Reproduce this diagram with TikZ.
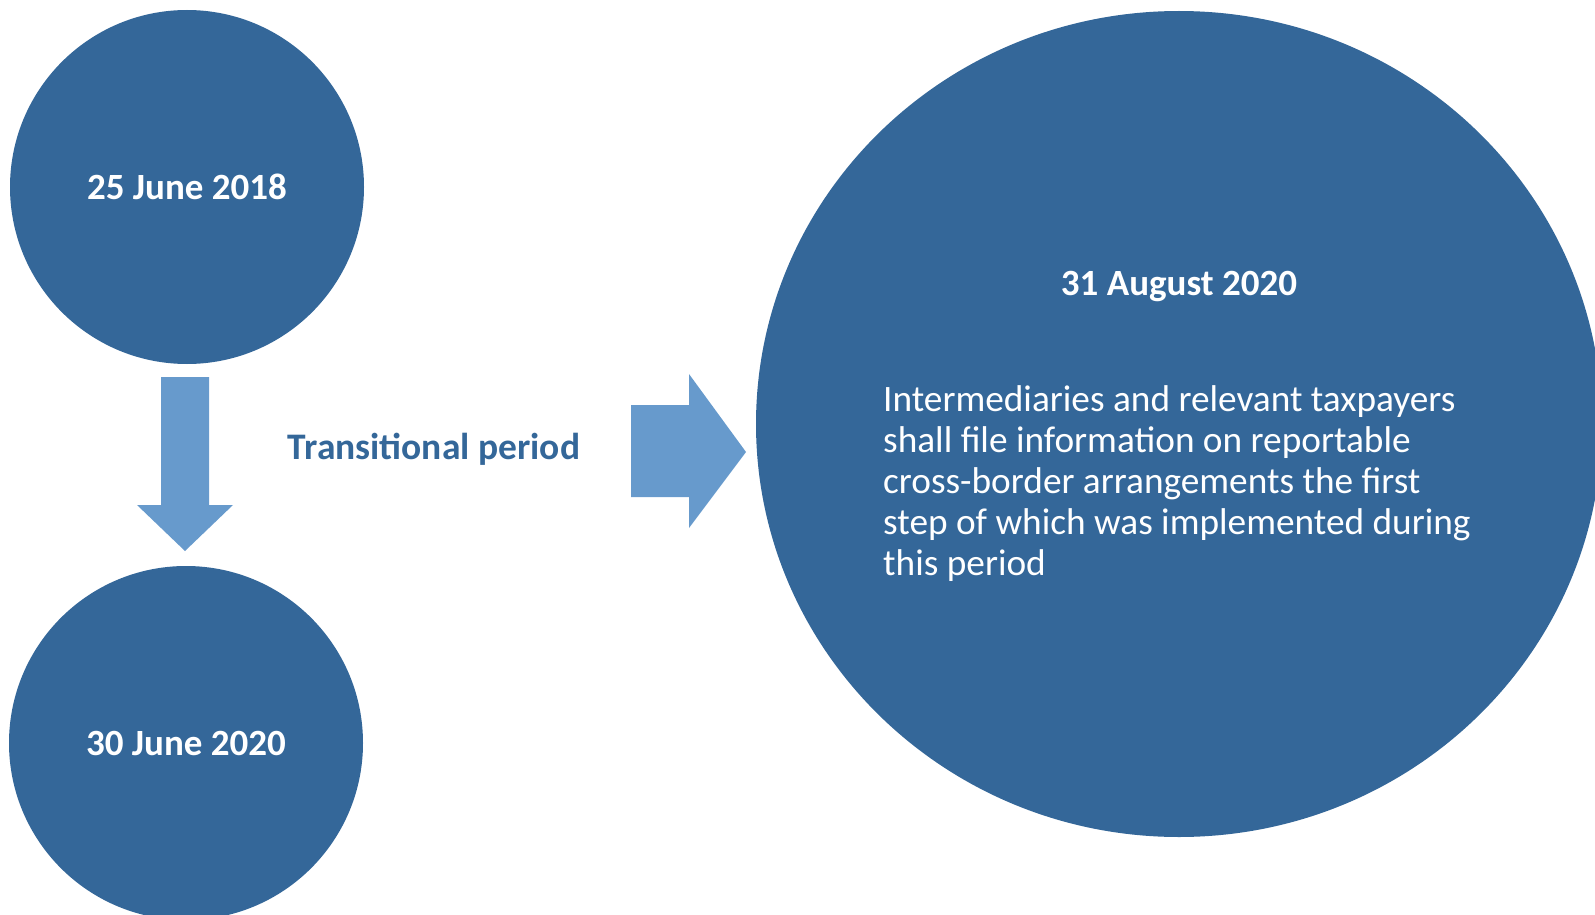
\documentclass[tikz,border=0pt]{standalone}
\usepackage{fontspec}
\setmainfont{Carlito}
\usetikzlibrary{shapes.geometric}
\usetikzlibrary{positioning}

\definecolor{datedark}{RGB}{52,103,153}
\definecolor{arrowlight}{RGB}{103,154,204}

\tikzset{
  datecircle/.style={circle, fill=datedark, text=white, inner sep=0pt,
    minimum size=354pt, font=\fontsize{37}{44}\selectfont\bfseries},
  blockarrow/.style={fill=arrowlight, draw=none},
}

\begin{document}
\begin{tikzpicture}[x=1pt,y=-1pt]
  \useasboundingbox (0,0) rectangle (1595,915);

  \node [datecircle] (d2018) at (187,187) {25 June 2018};
  \node [datecircle] (d2020) at (186,743) {30 June 2020};

  % block arrow down between the two dates
  \fill [blockarrow] (161,377) -- (209,377) -- (209,505) -- (233,505)
    -- (185,551) -- (137,505) -- (161,505) -- cycle;

  \node [text=datedark, font=\fontsize{37.5}{44}\selectfont\bfseries]
    (trans) at (434,449) {Transitional period};

  % block arrow towards the deadline
  \fill [blockarrow] (631,405) -- (689,405) -- (689,374) -- (746,452)
    -- (689,528) -- (689,497) -- (631,497) -- cycle;

  \node [ellipse, fill=datedark, inner sep=0pt, minimum width=846pt,
    minimum height=826pt] (aug) at (1179,424) {};
  \node [text=white, anchor=base, inner sep=0pt,
    font=\fontsize{37}{44}\selectfont\bfseries] (augdate) at (1179,295) {31 August 2020};
  \node [text=white, anchor=north west, inner sep=0pt, align=left,
    font=\fontsize{37.3}{41}\selectfont] (augtext) at (883,385)
    {Intermediaries and relevant taxpayers\\
     shall file information on reportable\\
     cross-border arrangements the first\\
     step of which was implemented during\\
     this period};
\end{tikzpicture}
\end{document}
